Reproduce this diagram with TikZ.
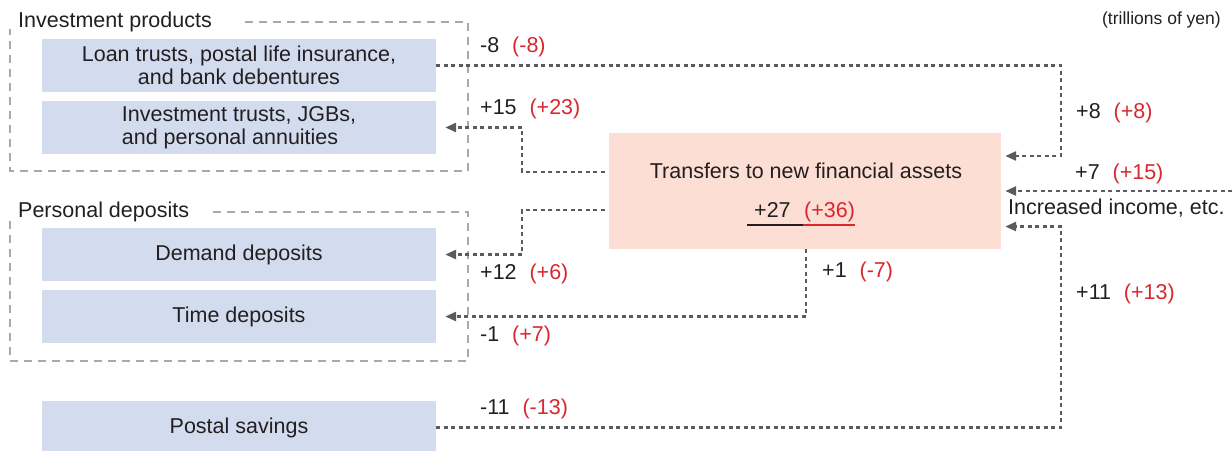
\documentclass[tikz,border=0pt]{standalone}
\usepackage{fontspec}
\setmainfont{Liberation Sans}
\usetikzlibrary{arrows.meta,calc}

\definecolor{txt}{HTML}{231F20}
\definecolor{numred}{HTML}{D7282F}
\definecolor{boxblue}{HTML}{D3DCEE}
\definecolor{boxpink}{HTML}{FCDED4}
\definecolor{flowgray}{HTML}{5A5B5D}
\definecolor{framegray}{HTML}{A7A9AC}

% amount with the previous-period figure in red brackets
\newcommand\amt[2]{#1\hspace{0.6em}\textcolor{numred}{(#2)}}

\begin{document}
\begin{tikzpicture}[x=1pt,y=-1pt,
  every node/.style={font=\fontsize{21.5}{22.5}\selectfont, text=txt},
  item/.style={fill=boxblue, minimum width=394pt, minimum height=53pt, inner sep=0pt, align=center},
  hub/.style={fill=boxpink, minimum width=392pt, minimum height=116pt, inner sep=0pt},
  frame/.style={draw=framegray, line width=1.3pt, dash pattern=on 8pt off 6pt},
  flow/.style={draw=flowgray, line width=2.6pt, dash pattern=on 4pt off 3.5pt},
  into/.style={flow, -{Triangle[length=11pt,width=9pt]}},
  lbl/.style={anchor=west, inner sep=0pt},
]
\useasboundingbox (0,0) rectangle (1232,450);

% asset categories
\node[item] (loan) at (239,65.5) {Loan trusts, postal life insurance,\\and bank debentures};
\node[item, align=left] (inv) at (239,127.5) {Investment trusts, JGBs,\\and personal annuities};
\node[item] (dem) at (239,254.5) {\raisebox{-1.5pt}{Demand deposits}};
\node[item] (time) at (239,316.5) {\raisebox{-1pt}{Time deposits}};
\node[item] (post) at (239,427.5) {\raisebox{-1.5pt}{Postal savings}};

% central box
\node[hub] (hub) at (805,191) {};
\node[anchor=base, inner sep=0pt] (hubtitle) at (806,178) {Transfers to new financial assets};
\node[anchor=base west, inner sep=0pt] (n27) at (754,217) {+27};
\node[anchor=base west, inner sep=0pt, text=numred] (n36) at (804,217) {(+36)};
\draw[txt, line width=2pt] ($(n27.base west)+(-7,8)$) -- ($(n36.base west)+(-1,8)$);
\draw[numred, line width=2pt] ($(n36.base west)+(-1,8)$) -- ($(n36.base east)+(0,8)$);

% group frames
\node[anchor=base west, inner sep=0pt] (gInv) at (18,27) {Investment products};
\draw[frame] (245,22) -- (468,22) -- (468,171) -- (10,171) -- (10,29);
\node[anchor=base west, inner sep=0pt] (gDep) at (18,217) {Personal deposits};
\draw[frame] (213,212) -- (468,212) -- (468,361) -- (10,361) -- (10,219);

% bends of the flows
\coordinate (bendA) at (1061,156);
\coordinate (bendB) at (522,127.5);
\coordinate (bendC) at (522,254.5);
\coordinate (bendF) at (1061,226.5);
\coordinate (income) at (1232,191);

% flows
\draw[into, shorten >=4pt] (loan.east) -| (bendA) -- (hub.east |- bendA);
\draw[into, shorten >=9pt, shorten <=4pt] ($(hub.west)+(0,-19)$) -| (bendB) -- (inv.east);
\draw[into, shorten >=9pt, shorten <=4pt] ($(hub.west)+(0,19)$) -| (bendC) -- (dem.east);
\draw[into, shorten >=9pt] ($(hub.south)+(1,0)$) |- (time.east);
\draw[into, shorten >=4pt] (income) -- (hub.east);
\draw[into, shorten >=4pt] (post.east) -| (bendF) -- (hub.east |- bendF);

% amounts
\node[lbl] (aLoan) at (480,47) {\amt{-8}{-8}};
\node[lbl] (aInv) at (480,109) {\amt{+15}{+23}};
\node[lbl] (aDem) at (480,274) {\amt{+12}{+6}};
\node[lbl] (aTime) at (480,336) {\amt{-1}{+7}};
\node[lbl] (aPost) at (480,409) {\amt{-11}{-13}};
\node[lbl] (aDown) at (822,272) {\amt{+1}{-7}};
\node[lbl] (aRight) at (1076,113) {\amt{+8}{+8}};
\node[lbl] (aInc) at (1075,174) {\amt{+7}{+15}};
\node[lbl] (incText) at (1008,208) {Increased income, etc.};
\node[lbl] (aPostIn) at (1076,294) {\amt{+11}{+13}};

\node[anchor=east, inner sep=0pt, font=\fontsize{17.5}{20}\selectfont] (unit) at (1221,20) {(trillions of yen)};
\end{tikzpicture}
\end{document}
